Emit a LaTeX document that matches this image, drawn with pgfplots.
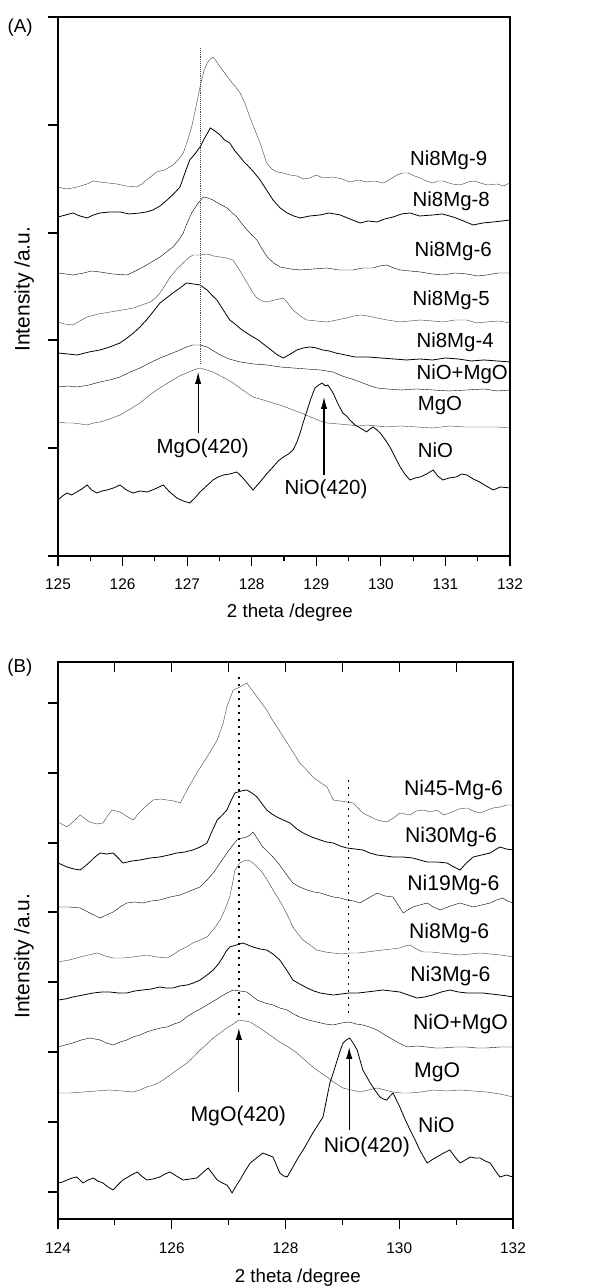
\documentclass[border=0pt]{standalone}
\usepackage{fontspec}
\setmainfont{Liberation Sans}
\usepackage{pgfplots}
\pgfplotsset{compat=1.18}
\usetikzlibrary{arrows.meta,calc}
\begin{document}
\begin{tikzpicture}[x=1bp,y=1bp]
\pgfplotsset{
  common/.style={scale only axis, clip=false,
    axis line style={line width=1.4bp},
    every tick/.style={black,line width=1.1bp},
    tick align=outside, xtick pos=bottom, ytick pos=left, yticklabels={},
    major tick length=10bp, minor tick length=5.5bp,
    /pgf/number format/assume math mode=true,
    tick label style={font=\fontsize{15.4bp}{18bp}\selectfont},
    xticklabel style={anchor=base, yshift=-24bp},
    xlabel style={font=\fontsize{18.7bp}{22bp}\selectfont},
    ylabel style={font=\fontsize{21bp}{24bp}\selectfont},
    cycle list={{black!75,line width=0.8bp,mark=none}},
    unbounded coords=jump,
  },
}
\tikzset{
  lab/.style={anchor=base west, inner sep=0pt, font=\fontsize{20.4bp}{24bp}\selectfont},
  labb/.style={anchor=base west, inner sep=0pt, font=\fontsize{21.2bp}{24bp}\selectfont},
  arr/.style={line width=1.1bp, -{Latex[length=12bp,width=6.5bp]}},
}
% ---------------- Panel A ----------------
\begin{axis}[common, at={(0,663)}, anchor=south west, width=452bp, height=539bp,
  xmin=125, xmax=132, ymin=0, ymax=539,
  xtick={125,...,132}, minor x tick num=1,
  ytick={0,108,216,323,431,539},
  xlabel={2 theta /degree}, ylabel={Intensity /a.u.},
  xlabel style={at={(axis description cs:0.513,-0.106)}, anchor=center},
  ylabel style={at={(axis description cs:-0.075,0.495)}, anchor=center},
]
\addplot coordinates {(125.00,369)(125.12,367)(125.23,368)(125.35,370)(125.45,372)(125.55,375)(125.65,374)(125.78,373)(125.91,372)(126.05,370)(126.22,369)(126.30,372)(126.37,376)(126.45,380)(126.53,384)(126.65,386)(126.78,391)(126.86,396)(126.94,403)(127.00,414)(127.07,429)(127.14,450)(127.20,469)(127.26,485)(127.31,493)(127.36,497)(127.40,499)(127.45,495)(127.51,489)(127.58,483)(127.66,476)(127.74,470)(127.82,463)(127.90,452)(127.97,439)(128.05,426)(128.13,413)(128.18,403)(128.23,393)(128.31,387)(128.39,384)(128.49,383)(128.59,381)(128.70,380)(128.80,377)(128.90,378)(129.00,381)(129.10,378)(129.26,379)(129.40,377)(129.52,374)(129.65,376)(129.78,374)(129.90,375)(130.04,373)(130.15,377)(130.25,381)(130.34,383)(130.42,383)(130.52,380)(130.61,378)(130.70,375)(130.81,373)(130.88,375)(130.96,375)(131.10,372)(131.23,371)(131.35,374)(131.45,375)(131.54,373)(131.65,371)(131.80,372)(131.90,370)(132.00,373)};
\addplot coordinates {(125.00,339)(125.12,341)(125.23,343)(125.34,340)(125.45,338)(125.55,341)(125.65,343)(125.80,344)(125.96,344)(126.10,342)(126.27,343)(126.37,344)(126.47,346)(126.58,350)(126.69,356)(126.79,362)(126.89,369)(126.96,382)(127.04,396)(127.12,402)(127.20,409)(127.28,419)(127.36,428)(127.43,425)(127.51,421)(127.58,416)(127.66,413)(127.74,405)(127.82,399)(127.88,394)(127.93,391)(128.03,384)(128.13,376)(128.23,366)(128.33,356)(128.44,348)(128.55,343)(128.65,340)(128.75,338)(128.90,340)(129.06,341)(129.20,343)(129.37,341)(129.52,337)(129.68,333)(129.80,335)(129.94,334)(130.06,337)(130.19,339)(130.32,342)(130.45,343)(130.60,340)(130.81,341)(130.95,342)(131.12,339)(131.28,335)(131.43,331)(131.58,333)(131.74,334)(131.88,335)(132.00,336)};
\addplot coordinates {(125.00,283)(125.12,282)(125.23,281)(125.40,283)(125.52,285)(125.65,284)(125.85,282)(126.07,281)(126.20,285)(126.32,289)(126.45,294)(126.58,299)(126.68,304)(126.78,309)(126.86,315)(126.94,323)(127.00,333)(127.07,343)(127.16,352)(127.25,359)(127.32,358)(127.40,356)(127.50,352)(127.62,348)(127.70,343)(127.77,339)(127.85,332)(127.93,326)(128.00,321)(128.08,316)(128.16,307)(128.24,299)(128.34,293)(128.44,289)(128.60,287)(128.75,286)(128.95,287)(129.16,288)(129.35,286)(129.57,286)(129.72,288)(129.88,288)(129.98,290)(130.09,291)(130.20,288)(130.30,286)(130.45,285)(130.61,284)(130.80,282)(130.96,281)(131.15,283)(131.33,282)(131.50,280)(131.64,281)(131.82,283)(132.00,283)};
\addplot coordinates {(125.00,234)(125.10,232)(125.23,231)(125.34,235)(125.45,239)(125.63,242)(125.81,244)(126.00,246)(126.17,248)(126.30,251)(126.43,254)(126.51,258)(126.58,263)(126.66,271)(126.74,279)(126.84,287)(126.94,293)(127.02,298)(127.09,301)(127.20,301)(127.31,302)(127.41,300)(127.51,299)(127.61,298)(127.71,296)(127.82,285)(127.93,273)(128.00,265)(128.08,258)(128.16,255)(128.23,254)(128.36,256)(128.49,258)(128.57,252)(128.64,246)(128.75,240)(128.85,236)(129.00,235)(129.16,234)(129.32,236)(129.47,238)(129.58,240)(129.68,241)(129.80,240)(129.94,238)(130.10,236)(130.30,234)(130.45,235)(130.61,236)(130.80,235)(130.96,234)(131.15,236)(131.33,236)(131.48,233)(131.64,234)(131.82,235)(132.00,233)};
\addplot coordinates {(125.00,203)(125.15,202)(125.30,201)(125.48,204)(125.65,206)(125.80,209)(125.96,213)(126.07,218)(126.17,223)(126.27,229)(126.37,236)(126.47,244)(126.58,253)(126.68,258)(126.78,263)(126.89,268)(126.99,273)(127.10,272)(127.20,271)(127.31,266)(127.38,261)(127.46,256)(127.56,246)(127.66,236)(127.76,231)(127.85,226)(127.97,221)(128.10,216)(128.20,211)(128.30,206)(128.40,201)(128.49,198)(128.60,202)(128.70,206)(128.80,208)(128.90,209)(129.00,208)(129.10,206)(129.20,205)(129.30,203)(129.45,201)(129.60,199)(129.80,199)(130.00,198)(130.20,197)(130.40,196)(130.60,197)(130.80,196)(131.00,198)(131.20,197)(131.40,195)(131.60,196)(131.80,195)(132.00,194)};
\addplot coordinates {(125.00,169)(125.15,170)(125.30,169)(125.48,171)(125.65,174)(125.80,176)(125.96,179)(126.12,184)(126.27,188)(126.42,193)(126.58,198)(126.74,202)(126.89,206)(126.99,209)(127.09,211)(127.20,211)(127.31,209)(127.41,205)(127.51,201)(127.65,197)(127.82,194)(128.03,192)(128.24,191)(128.44,189)(128.64,188)(128.85,187)(129.06,186)(129.16,185)(129.26,184)(129.40,180)(129.55,177)(129.68,174)(129.80,171)(129.94,168)(130.10,167)(130.30,166)(130.55,167)(130.81,166)(131.05,165)(131.33,166)(131.60,167)(131.80,165)(132.00,166)};
\addplot coordinates {(125.00,134)(125.12,133)(125.23,133)(125.35,132)(125.45,131)(125.55,133)(125.65,134)(125.80,137)(125.96,141)(126.12,147)(126.27,153)(126.40,160)(126.53,166)(126.65,171)(126.78,176)(126.88,180)(126.99,183)(127.10,186)(127.20,188)(127.30,186)(127.40,184)(127.55,179)(127.71,173)(127.86,166)(128.02,159)(128.18,156)(128.33,153)(128.48,150)(128.64,146)(128.80,142)(128.95,138)(129.06,135)(129.16,133)(129.35,132)(129.52,131)(129.65,130)(129.78,131)(129.94,130)(130.09,129)(130.30,130)(130.56,129)(130.80,128)(131.07,130)(131.30,129)(131.58,129)(131.80,129)(132.00,128)};
\addplot coordinates {(125.00,56)(125.07,60)(125.14,63)(125.21,61)(125.29,64)(125.37,67)(125.45,71)(125.52,66)(125.60,63)(125.68,65)(125.76,66)(125.86,68)(125.96,71)(126.06,66)(126.16,63)(126.27,65)(126.38,64)(126.50,67)(126.63,71)(126.73,64)(126.84,58)(126.94,55)(127.04,53)(127.12,58)(127.20,64)(127.30,70)(127.40,76)(127.48,79)(127.56,81)(127.66,82)(127.77,84)(127.85,79)(127.93,73)(128.02,66)(128.13,74)(128.23,82)(128.33,89)(128.41,95)(128.49,99)(128.57,102)(128.64,106)(128.70,114)(128.75,123)(128.80,134)(128.86,146)(128.92,158)(128.98,168)(129.04,171)(129.09,173)(129.14,170)(129.18,171)(129.22,167)(129.26,163)(129.33,153)(129.41,143)(129.47,140)(129.52,136)(129.60,131)(129.68,128)(129.73,126)(129.78,124)(129.83,127)(129.88,129)(129.94,126)(129.99,123)(130.07,116)(130.14,109)(130.22,99)(130.30,89)(130.37,82)(130.45,76)(130.53,78)(130.61,79)(130.71,82)(130.81,86)(130.88,80)(130.96,76)(131.06,78)(131.17,79)(131.25,82)(131.33,81)(131.43,77)(131.53,74)(131.63,70)(131.74,66)(131.85,69)(132.00,68)};
\addplot[densely dotted, line width=0.9bp, black!70] coordinates {(127.2,508)(127.2,193)};
\draw[arr] (axis cs:127.17,123) -- (axis cs:127.17,184);
\draw[arr] (axis cs:129.12,81) -- (axis cs:129.12,159);
\node[lab] at (axis cs:130.45,390) {Ni8Mg-9};
\node[lab] at (axis cs:130.49,349) {Ni8Mg-8};
\node[lab] at (axis cs:130.52,299) {Ni8Mg-6};
\node[lab] at (axis cs:130.49,250) {Ni8Mg-5};
\node[lab] at (axis cs:130.55,208) {Ni8Mg-4};
\node[lab] at (axis cs:130.55,176) {NiO+MgO};
\node[lab] at (axis cs:130.57,145) {MgO};
\node[lab] at (axis cs:130.57,98) {NiO};
\node[anchor=base, inner sep=0pt, font=\fontsize{20.4bp}{24bp}\selectfont] at (axis cs:127.24,102) {MgO(420)};
\node[anchor=base, inner sep=0pt, font=\fontsize{20.4bp}{24bp}\selectfont] at (axis cs:129.15,61) {NiO(420)};
\node[anchor=center, inner sep=0pt, font=\fontsize{18.7bp}{22bp}\selectfont] at (axis description cs:-0.084,0.98) {(A)};
\end{axis}
% ---------------- Panel B ----------------
\begin{axis}[common, at={(0,0)}, anchor=south west, width=455bp, height=557bp,
  xmin=124, xmax=132, ymin=0, ymax=557,
  xtick={124,126,...,132}, minor x tick num=1,
  ytick={27,97,167,237,307,376,446,516},
  xlabel={2 theta /degree}, ylabel={Intensity /a.u.},
  xlabel style={at={(axis description cs:0.527,-0.106)}, anchor=center},
  ylabel style={at={(axis description cs:-0.075,0.472)}, anchor=center},
]
\coordinate (Borig) at (axis cs:124,0);
\addplot coordinates {(124.00,397)(124.16,392)(124.28,398)(124.39,404)(124.48,400)(124.56,397)(124.68,395)(124.79,396)(124.87,403)(124.95,409)(125.09,407)(125.20,403)(125.32,399)(125.44,407)(125.55,413)(125.67,419)(125.80,420)(125.92,419)(126.04,418)(126.15,416)(126.27,429)(126.44,446)(126.62,462)(126.80,479)(126.90,495)(126.97,512)(127.08,529)(127.20,532)(127.32,536)(127.41,529)(127.50,522)(127.59,515)(127.67,509)(127.76,500)(127.85,492)(127.94,484)(128.03,476)(128.14,466)(128.25,456)(128.37,449)(128.48,442)(128.60,437)(128.73,432)(128.84,419)(128.96,418)(129.08,417)(129.19,416)(129.36,406)(129.50,402)(129.61,399)(129.78,397)(129.90,401)(130.01,406)(130.19,404)(130.30,408)(130.42,409)(130.55,407)(130.66,409)(130.78,404)(130.89,406)(131.05,410)(131.19,411)(131.30,408)(131.42,406)(131.55,409)(131.65,411)(131.78,412)(131.89,414)(132.00,414)};
\addplot coordinates {(124.00,356)(124.16,352)(124.28,350)(124.39,349)(124.48,353)(124.56,357)(124.65,362)(124.74,366)(124.86,365)(124.97,366)(125.06,361)(125.14,356)(125.30,358)(125.44,359)(125.62,361)(125.79,362)(125.95,364)(126.09,366)(126.23,367)(126.37,369)(126.50,372)(126.62,376)(126.71,388)(126.80,399)(126.89,404)(126.97,409)(127.04,418)(127.11,426)(127.22,428)(127.32,429)(127.41,426)(127.50,422)(127.59,415)(127.67,409)(127.76,405)(127.85,402)(127.96,399)(128.08,396)(128.20,390)(128.31,386)(128.46,382)(128.61,379)(128.72,377)(128.84,376)(128.96,373)(129.08,371)(129.22,370)(129.36,369)(129.48,366)(129.61,364)(129.75,363)(129.89,362)(130.06,362)(130.24,361)(130.36,359)(130.49,357)(130.66,357)(130.84,356)(130.96,352)(131.07,349)(131.18,356)(131.30,362)(131.45,364)(131.60,366)(131.68,369)(131.77,372)(131.88,370)(132.00,369)};
\addplot coordinates {(124.00,312)(124.20,312)(124.39,311)(124.56,306)(124.74,301)(124.85,304)(124.97,307)(125.09,312)(125.21,316)(125.35,317)(125.49,316)(125.64,318)(125.79,319)(125.97,322)(126.15,324)(126.32,328)(126.50,332)(126.62,339)(126.73,346)(126.85,356)(126.97,366)(127.06,373)(127.15,379)(127.24,381)(127.32,382)(127.38,384)(127.43,387)(127.51,380)(127.60,372)(127.69,367)(127.78,362)(127.87,356)(127.96,349)(128.05,342)(128.13,336)(128.25,332)(128.38,329)(128.50,327)(128.61,326)(128.72,324)(128.84,322)(128.96,321)(129.08,319)(129.20,318)(129.31,316)(129.46,321)(129.61,326)(129.75,323)(129.89,322)(129.98,314)(130.07,306)(130.15,309)(130.24,312)(130.36,314)(130.49,316)(130.60,312)(130.72,309)(130.90,313)(131.07,316)(131.18,314)(131.30,312)(131.45,314)(131.60,316)(131.71,319)(131.82,321)(131.90,318)(132.00,316)};
\addplot coordinates {(124.00,257)(124.20,259)(124.39,262)(124.54,264)(124.69,266)(124.83,263)(124.97,261)(125.15,261)(125.32,262)(125.44,263)(125.56,264)(125.74,262)(125.92,261)(126.04,265)(126.15,269)(126.26,272)(126.37,276)(126.50,279)(126.62,282)(126.74,290)(126.85,299)(126.94,310)(127.02,322)(127.07,336)(127.11,349)(127.16,353)(127.20,356)(127.26,358)(127.32,359)(127.38,358)(127.43,356)(127.52,351)(127.60,346)(127.69,338)(127.78,329)(127.87,321)(127.96,312)(128.05,302)(128.13,292)(128.22,285)(128.31,279)(128.43,274)(128.55,269)(128.70,267)(128.84,266)(128.98,265)(129.12,266)(129.28,266)(129.43,267)(129.57,268)(129.71,269)(129.86,270)(130.01,271)(130.10,273)(130.19,274)(130.30,270)(130.42,267)(130.57,267)(130.72,266)(130.90,265)(131.07,264)(131.25,265)(131.42,266)(131.60,265)(131.77,264)(131.90,263)(132.00,262)};
\addplot coordinates {(124.00,219)(124.13,220)(124.26,222)(124.44,224)(124.62,226)(124.77,227)(124.91,227)(125.06,226)(125.21,226)(125.35,228)(125.49,229)(125.64,230)(125.79,232)(125.90,231)(126.02,231)(126.14,233)(126.27,234)(126.38,236)(126.50,239)(126.62,244)(126.73,249)(126.82,255)(126.90,262)(126.96,268)(127.02,272)(127.14,274)(127.25,276)(127.34,274)(127.43,272)(127.55,270)(127.67,269)(127.78,265)(127.90,259)(128.02,249)(128.13,239)(128.25,235)(128.38,231)(128.50,228)(128.61,226)(128.72,225)(128.84,224)(128.98,225)(129.12,226)(129.28,226)(129.43,227)(129.57,228)(129.71,229)(129.86,228)(130.01,227)(130.16,224)(130.31,221)(130.45,222)(130.59,224)(130.74,227)(130.89,229)(131.04,227)(131.19,226)(131.33,226)(131.47,226)(131.62,225)(131.77,224)(131.90,223)(132.00,222)};
\addplot coordinates {(124.00,172)(124.13,174)(124.26,176)(124.41,179)(124.56,181)(124.65,180)(124.74,179)(124.85,176)(124.97,174)(125.09,177)(125.21,179)(125.32,182)(125.44,184)(125.56,187)(125.67,189)(125.80,191)(125.92,192)(126.04,195)(126.15,197)(126.26,202)(126.37,206)(126.50,210)(126.62,214)(126.74,218)(126.85,222)(126.97,226)(127.08,229)(127.20,228)(127.32,227)(127.41,223)(127.50,219)(127.64,216)(127.78,214)(127.90,211)(128.03,209)(128.14,205)(128.25,202)(128.40,199)(128.55,197)(128.70,195)(128.84,194)(128.98,196)(129.12,197)(129.24,195)(129.36,194)(129.48,192)(129.61,189)(129.72,185)(129.84,181)(129.99,176)(130.14,172)(130.30,173)(130.49,172)(130.63,171)(130.77,171)(130.98,172)(131.19,172)(131.36,171)(131.54,171)(131.77,172)(132.00,172)};
\addplot coordinates {(124.00,126)(124.22,126)(124.44,127)(124.68,128)(124.91,129)(125.12,128)(125.32,127)(125.44,129)(125.56,132)(125.68,134)(125.79,137)(125.90,141)(126.02,146)(126.14,151)(126.27,156)(126.38,162)(126.50,169)(126.62,175)(126.73,181)(126.85,186)(126.97,191)(127.08,195)(127.18,199)(127.28,198)(127.38,197)(127.49,193)(127.60,189)(127.75,183)(127.90,177)(128.05,172)(128.20,166)(128.34,159)(128.48,152)(128.60,147)(128.73,142)(128.87,136)(129.01,131)(129.16,129)(129.31,127)(129.46,129)(129.61,131)(129.75,129)(129.89,127)(130.04,126)(130.19,126)(130.39,127)(130.59,129)(130.83,128)(131.07,129)(131.30,128)(131.54,127)(131.77,125)(132.00,122)};
\addplot coordinates {(124.00,36)(124.08,37)(124.16,39)(124.25,41)(124.33,42)(124.44,36)(124.53,39)(124.62,41)(124.70,38)(124.79,36)(124.88,32)(124.97,29)(125.05,34)(125.14,39)(125.26,43)(125.39,47)(125.47,43)(125.56,39)(125.67,40)(125.79,42)(125.88,45)(125.97,47)(126.08,43)(126.20,39)(126.32,40)(126.44,41)(126.54,46)(126.64,51)(126.72,45)(126.80,39)(126.89,36)(126.97,34)(127.02,30)(127.06,26)(127.13,33)(127.20,39)(127.29,48)(127.38,56)(127.49,61)(127.60,66)(127.69,64)(127.78,62)(127.84,54)(127.90,46)(127.97,43)(128.03,42)(128.08,47)(128.13,52)(128.22,61)(128.31,69)(128.40,78)(128.48,86)(128.57,94)(128.66,102)(128.72,119)(128.78,136)(128.85,148)(128.91,159)(128.96,168)(129.01,176)(129.07,179)(129.13,181)(129.20,175)(129.26,169)(129.31,159)(129.36,149)(129.43,142)(129.49,136)(129.57,129)(129.66,122)(129.72,120)(129.78,119)(129.84,123)(129.89,126)(129.95,119)(130.01,112)(130.10,100)(130.19,89)(130.28,79)(130.36,69)(130.43,62)(130.49,56)(130.57,59)(130.66,62)(130.78,66)(130.89,69)(130.98,62)(131.07,56)(131.16,59)(131.25,62)(131.33,61)(131.42,61)(131.51,58)(131.60,56)(131.68,49)(131.77,42)(131.88,44)(132.00,42)};
\addplot[line width=1.7bp, black, dash pattern=on 1.7bp off 5.3bp] coordinates {(127.18,542)(127.18,202)};
\addplot[line width=1.7bp, black, dash pattern=on 1.7bp off 5.3bp] coordinates {(129.11,439)(129.11,204)};
% inward ticks on the top edge
\addplot[black, line width=1.1bp] coordinates {(125,557)(125,547)(125,nan)(126,557)(126,547)(126,nan)(127,557)(127,547)(127,nan)(128,557)(128,547)(128,nan)(129,557)(129,547)(129,nan)(130,557)(130,547)(130,nan)(131,557)(131,547)};
\draw[arr] (axis cs:127.18,127) -- (axis cs:127.18,191);
\draw[arr] (axis cs:129.12,89) -- (axis cs:129.12,172);
\node[labb] at (axis cs:130.08,423) {Ni45-Mg-6};
\node[labb] at (axis cs:130.10,376) {Ni30Mg-6};
\node[labb] at (axis cs:130.14,328) {Ni19Mg-6};
\node[labb] at (axis cs:130.17,280) {Ni8Mg-6};
\node[labb] at (axis cs:130.19,237) {Ni3Mg-6};
\node[labb] at (axis cs:130.24,189) {NiO+MgO};
\node[labb] at (axis cs:130.26,141) {MgO};
\node[labb] at (axis cs:130.33,86) {NiO};
\node[anchor=base, inner sep=0pt, font=\fontsize{21.2bp}{24bp}\selectfont] at (axis cs:127.17,97) {MgO(420)};
\node[anchor=base, inner sep=0pt, font=\fontsize{21.2bp}{24bp}\selectfont] at (axis cs:129.43,66) {NiO(420)};
\node[anchor=center, inner sep=0pt, font=\fontsize{18.7bp}{22bp}\selectfont] at (axis description cs:-0.084,0.989) {(B)};
\end{axis}
\pgfresetboundingbox
\useasboundingbox ($(Borig)+(-58,-68)$) rectangle ($(Borig)+(535,1219)$);
\end{tikzpicture}
\end{document}
